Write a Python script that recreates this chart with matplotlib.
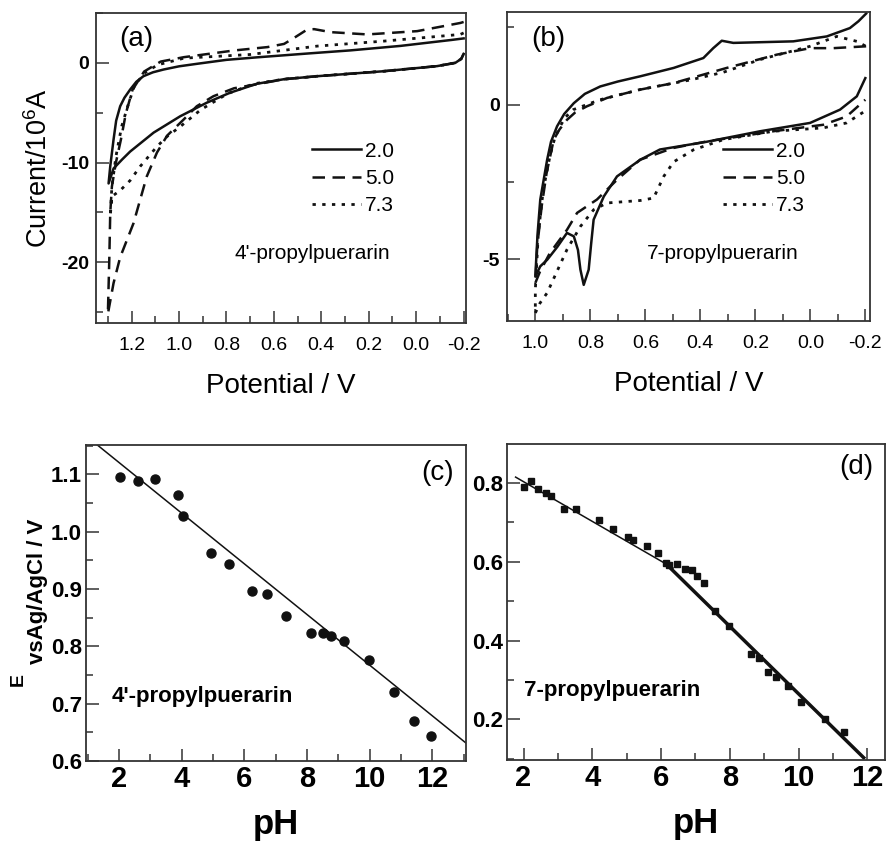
import matplotlib
matplotlib.use("Agg")
import matplotlib.pyplot as plt
import numpy as np
from matplotlib.ticker import MultipleLocator

plt.rcParams['font.family'] = ['Liberation Sans', 'DejaVu Sans']
plt.rcParams['axes.unicode_minus'] = False
plt.rcParams['mathtext.fontset'] = 'custom'
plt.rcParams['mathtext.rm'] = 'Liberation Sans'
plt.rcParams['mathtext.bf'] = 'Liberation Sans:bold'
plt.rcParams['mathtext.it'] = 'Liberation Sans:italic'

# ---------------- Data ----------------
ph_labels = ["2.0", "5.0", "7.3"]

# Panel (a): 4'-propylpuerarin CVs  (potential V, current 1e-6 A)
a_20_E = [-0.2, -0.15, 0.066, 0.277, 0.45, 0.672, 0.8, 0.925, 1.0, 1.065, 1.11, 1.15, 1.18, 1.206, 1.23,
          1.248, 1.265, 1.276, 1.29, 1.297,
          1.276, 1.24, 1.206, 1.107, 0.995, 0.883, 0.785, 0.672, 0.557, 0.417, 0.136, -0.088, -0.165, -0.19, -0.2]
a_20_I = [2.45, 2.3, 1.7, 1.25, 0.95, 0.55, 0.3, -0.1, -0.35, -0.67, -0.95, -1.34, -1.9, -2.68, -3.5,
          -4.35, -5.8, -7.7, -10.4, -12.1,
          -10.6, -9.7, -8.9, -7.0, -5.36, -4.0, -3.0, -2.1, -1.64, -1.34, -0.84, -0.33, 0.0, 0.4, 0.9]

a_50_E = [-0.2, -0.186, -0.004, 0.206, 0.361, 0.43, 0.459, 0.515, 0.557, 0.627, 0.768, 0.979, 1.077, 1.147,
          1.196, 1.224, 1.245, 1.266, 1.283, 1.29, 1.294, 1.3,
          1.276, 1.248, 1.192, 1.136, 1.093, 1.05, 0.981, 0.925, 0.855, 0.768, 0.672, 0.557, 0.417, 0.136,
          -0.088, -0.165, -0.19, -0.2]
a_50_I = [4.1, 4.0, 3.18, 2.85, 3.08, 3.38, 3.35, 2.5, 1.9, 1.58, 1.24, 0.57, 0.13, -0.87,
          -2.7, -5.06, -7.7, -10.0, -12.4, -15.1, -19.8, -25.2,
          -22.1, -19.5, -16.1, -11.4, -9.0, -7.3, -5.7, -4.35, -3.35, -2.55, -2.15, -1.64, -1.34, -0.84,
          -0.33, 0.0, 0.4, 0.9]

a_73_E = [-0.2, -0.186, 0.136, 0.417, 0.698, 0.979, 1.09, 1.147, 1.189, 1.217, 1.242, 1.266, 1.283, 1.29,
          1.283, 1.248, 1.206, 1.164, 1.093, 1.051, 0.995, 0.908, 0.796, 0.684, 0.557, 0.417, 0.136,
          -0.088, -0.165, -0.19, -0.2]
a_73_I = [3.0, 2.85, 2.18, 1.68, 0.84, 0.47, -0.2, -1.04, -2.38, -4.4, -6.4, -9.4, -12.4, -15.4,
          -13.4, -12.8, -11.8, -10.4, -8.4, -7.4, -6.4, -4.7, -3.1, -2.1, -1.64, -1.34, -0.84,
          -0.33, 0.0, 0.4, 0.9]

# Panel (b): 7-propylpuerarin CVs
b_20_E = [-0.203, -0.175, -0.144, -0.06, 0.062, 0.28, 0.322, 0.353, 0.389, 0.497, 0.618, 0.7, 0.764, 0.82,
          0.86, 0.895, 0.921, 0.943, 0.957, 0.982, 0.992, 1.0,
          0.982, 0.957, 0.92, 0.885, 0.86, 0.845, 0.836, 0.824, 0.806, 0.797, 0.788, 0.751, 0.703, 0.618,
          0.547, 0.377, 0.183, 0.001, -0.108, -0.169, -0.2]
b_20_I = [2.95, 2.7, 2.48, 2.21, 2.05, 2.0, 2.07, 1.83, 1.51, 1.19, 0.92, 0.75, 0.59, 0.35,
          0.05, -0.3, -0.70, -1.2, -1.78, -3.07, -4.2, -5.56,
          -5.23, -5.02, -4.6, -4.15, -4.26, -4.7, -5.34, -5.83, -5.34, -4.5, -3.72, -2.97, -2.32, -1.78,
          -1.45, -1.2, -0.86, -0.59, -0.16, 0.27, 0.86]

b_50_E = [-0.203, -0.084, 0.001, 0.122, 0.304, 0.497, 0.618, 0.739, 0.812, 0.855, 0.885, 0.912, 0.933, 0.959,
          0.977, 0.993, 1.0,
          0.983, 0.947, 0.885, 0.848, 0.776, 0.703, 0.619, 0.498, 0.377, 0.135, -0.047, -0.132, -0.2]
b_50_I = [1.89, 1.83, 1.83, 1.62, 1.19, 0.70, 0.49, 0.22, -0.05, -0.25, -0.49, -0.8, -1.13, -2.21,
          -3.29, -4.59, -5.77,
          -5.4, -4.8, -4.05, -3.5, -3.07, -2.43, -1.78, -1.40, -1.19, -0.86, -0.65, -0.38, 0.16]

b_73_E = [-0.2, -0.169, -0.096, 0.001, 0.183, 0.316, 0.437, 0.619, 0.765, 0.862, 0.89, 0.91, 0.93, 0.947,
          0.971, 0.989, 1.0, 1.0,
          0.983, 0.957, 0.885, 0.836, 0.788, 0.739, 0.618, 0.57, 0.533, 0.497, 0.425, 0.316, 0.135,
          -0.047, -0.132, -0.2]
b_73_I = [1.9, 2.05, 2.21, 1.89, 1.46, 1.05, 0.8, 0.49, 0.16, -0.16, -0.4, -0.70, -1.1, -1.67,
          -2.75, -4.15, -5.99, -6.74,
          -6.42, -6.09, -4.69, -3.94, -3.4, -3.18, -3.1, -3.02, -2.32, -1.85, -1.46, -1.13, -0.86,
          -0.75, -0.59, -0.2]

# Panel (c): peak potential vs pH, 4'-propylpuerarin
c_pH = [2.05, 2.6, 3.16, 3.9, 4.05, 4.94, 5.5, 6.24, 6.72, 7.32, 8.12, 8.5, 8.76, 9.19, 9.97, 10.78, 11.42, 11.95]
c_E = [1.096, 1.088, 1.091, 1.064, 1.028, 0.962, 0.943, 0.896, 0.891, 0.853, 0.823, 0.823, 0.818, 0.81,
       0.776, 0.721, 0.67, 0.643]
c_fit_intercept = 1.209
c_fit_slope = -0.0442
c_fit_range = [1.0, 13.1]

# Panel (d): peak potential vs pH, 7-propylpuerarin
d_pH = [2.02, 2.21, 2.41, 2.64, 2.80, 3.18, 3.53, 4.19, 4.61, 5.03, 5.19, 5.59, 5.91, 6.13, 6.23, 6.45,
        6.69, 6.89, 7.05, 7.24, 7.58, 7.97, 8.60, 8.84, 9.12, 9.35, 9.70, 10.07, 10.78, 11.33]
d_E = [0.789, 0.806, 0.785, 0.774, 0.768, 0.734, 0.734, 0.705, 0.684, 0.662, 0.656, 0.639, 0.622, 0.597,
       0.591, 0.595, 0.581, 0.580, 0.565, 0.546, 0.474, 0.438, 0.365, 0.356, 0.321, 0.308, 0.285, 0.245,
       0.201, 0.169]
d_fit1_intercept = 0.9042
d_fit1_slope = -0.0504
d_fit1_range = [1.77, 6.35]
d_fit2_intercept = 1.1207
d_fit2_slope = -0.0856
d_fit2_range = [6.2, 11.89]

# ---------------- Figure ----------------
fig = plt.figure(figsize=(8.86, 8.46), dpi=100)
W, H = 886, 846

def add_ax(left, top, right, bottom):
    return fig.add_axes([left / W, 1 - bottom / H, (right - left) / W, (bottom - top) / H])

def fig_xy(x, y):
    return x / W, 1 - y / H

axa = add_ax(96, 13, 466, 323)
axb = add_ax(507, 12, 870, 321)
axc = add_ax(86, 445, 466, 761)
axd = add_ax(507, 444, 885, 760)

spine_color = '#333333'
for ax in (axa, axb, axc, axd):
    for s in ax.spines.values():
        s.set_linewidth(1.3)
        s.set_color(spine_color)
    ax.tick_params(which='both', direction='in', top=False, right=False, color=spine_color, width=1.1)
    ax.tick_params(which='major', length=9)
    ax.tick_params(which='minor', length=5)

styles = [dict(ls='-', lw=1.8), dict(ls=(0, (5, 3)), lw=1.8), dict(ls=(0, (1.2, 2.3)), lw=2.0)]
lc = '#111111'
leg_kw = dict(loc='upper left', frameon=False, fontsize=15, handlelength=2.35, handletextpad=0.2,
              labelspacing=0.4, borderpad=0, borderaxespad=0)

# Panel (a)
for E, I, st, lab in zip([a_20_E, a_50_E, a_73_E], [a_20_I, a_50_I, a_73_I], styles, ph_labels):
    axa.plot(E, I, color=lc, label=lab, **st)
axa.set_xlim(1.35, -0.21)
axa.set_ylim(-26.1, 5.0)
axa.set_xticks([1.2, 1.0, 0.8, 0.6, 0.4, 0.2, 0.0, -0.2])
axa.set_xticklabels(['1.2', '1.0', '0.8', '0.6', '0.4', '0.2', '0.0', '-0.2'])
axa.xaxis.set_minor_locator(MultipleLocator(0.1))
axa.set_yticks([0, -10, -20])
axa.set_yticklabels(['0', '-10', '-20'], fontweight='bold')
axa.yaxis.set_minor_locator(MultipleLocator(5))
axa.tick_params(axis='x', labelsize=14, pad=10)
axa.tick_params(axis='y', labelsize=14, pad=5)
axa.set_xlabel('Potential / V', fontsize=20, labelpad=14)
axa.set_ylabel('Current/10$^6$A', fontsize=19.5, labelpad=6)
axa.text(0.11, 0.916, '(a)', transform=axa.transAxes, fontsize=20, ha='center', va='center')
axa.text(0.584, 0.223, "4'-propylpuerarin", transform=axa.transAxes, fontsize=15, ha='center', va='center')
axa.legend(bbox_to_anchor=(0.584, 0.585), **leg_kw)

# Panel (b)
for E, I, st, lab in zip([b_20_E, b_50_E, b_73_E], [b_20_I, b_50_I, b_73_I], styles, ph_labels):
    axb.plot(E, I, color=lc, label=lab, **st)
axb.set_xlim(1.103, -0.217)
axb.set_ylim(-7.0, 3.0)
axb.set_xticks([1.0, 0.8, 0.6, 0.4, 0.2, 0.0, -0.2])
axb.set_xticklabels(['1.0', '0.8', '0.6', '0.4', '0.2', '0.0', '-0.2'])
axb.xaxis.set_minor_locator(MultipleLocator(0.1))
axb.set_yticks([0, -5])
axb.set_yticklabels(['0', '-5'], fontweight='bold')
axb.yaxis.set_minor_locator(MultipleLocator(2.5))
axb.tick_params(axis='x', labelsize=14, pad=10)
axb.tick_params(axis='y', labelsize=14, pad=5)
axb.set_xlabel('Potential / V', fontsize=20, labelpad=14)
axb.text(0.113, 0.913, '(b)', transform=axb.transAxes, fontsize=20, ha='center', va='center')
axb.text(0.594, 0.22, "7-propylpuerarin", transform=axb.transAxes, fontsize=15, ha='center', va='center')
axb.legend(bbox_to_anchor=(0.595, 0.58), **leg_kw)

# Panel (c)
axc.plot(c_pH, c_E, 'o', color=lc, ms=6.5, mec=lc)
xc = np.array(c_fit_range)
axc.plot(xc, c_fit_intercept + c_fit_slope * xc, color=lc, lw=1.1)
axc.set_xlim(0.95, 13.07)
axc.set_ylim(0.6, 1.151)
axc.set_xticks([2, 4, 6, 8, 10, 12])
axc.xaxis.set_minor_locator(MultipleLocator(1))
axc.set_yticks([0.6, 0.7, 0.8, 0.9, 1.0, 1.1])
axc.set_yticklabels(['0.6', '0.7', '0.8', '0.9', '1.0', '1.1'])
axc.yaxis.set_minor_locator(MultipleLocator(0.05))
axc.tick_params(axis='x', labelsize=21, pad=3)
axc.tick_params(axis='y', labelsize=16, pad=3)
for lbl in axc.get_xticklabels() + axc.get_yticklabels():
    lbl.set_fontweight('bold')
axc.set_xlabel('pH', fontsize=25, fontweight='bold', labelpad=11)
axc.text(0.926, 0.911, '(c)', transform=axc.transAxes, fontsize=20, ha='center', va='center')
axc.text(0.307, 0.203, "4'-propylpuerarin", transform=axc.transAxes, fontsize=16, fontweight='bold',
         ha='center', va='center')
# y label of (c): "E" with a large subscript, as in the original
fig.text(*fig_xy(23, 686), 'E', rotation=90, rotation_mode='anchor', ha='left', va='baseline',
         fontsize=14, fontweight='bold')
fig.text(*fig_xy(43, 664), 'vsAg/AgCl / V', rotation=90, rotation_mode='anchor', ha='left',
         va='baseline', fontsize=16, fontweight='bold')

# Panel (d)
axd.plot(d_pH, d_E, 's', color=lc, ms=4.6, mec=lc)
x1 = np.array(d_fit1_range)
axd.plot(x1, d_fit1_intercept + d_fit1_slope * x1, color=lc, lw=1.1)
x2 = np.array(d_fit2_range)
axd.plot(x2, d_fit2_intercept + d_fit2_slope * x2, color=lc, lw=2.5)
axd.set_xlim(1.52, 12.51)
axd.set_ylim(0.097, 0.899)
axd.set_xticks([2, 4, 6, 8, 10, 12])
axd.xaxis.set_minor_locator(MultipleLocator(1))
axd.set_yticks([0.2, 0.4, 0.6, 0.8])
axd.set_yticklabels(['0.2', '0.4', '0.6', '0.8'])
axd.yaxis.set_minor_locator(MultipleLocator(0.1))
axd.tick_params(axis='x', labelsize=21, pad=3)
axd.tick_params(axis='y', labelsize=16, pad=3)
for lbl in axd.get_xticklabels() + axd.get_yticklabels():
    lbl.set_fontweight('bold')
axd.set_xlabel('pH', fontsize=25, fontweight='bold', labelpad=11)
axd.text(0.923, 0.927, '(d)', transform=axd.transAxes, fontsize=20, ha='center', va='center')
axd.text(0.279, 0.219, "7-propylpuerarin", transform=axd.transAxes, fontsize=16, fontweight='bold',
         ha='center', va='center')

fig.savefig('out.png', dpi=100)
